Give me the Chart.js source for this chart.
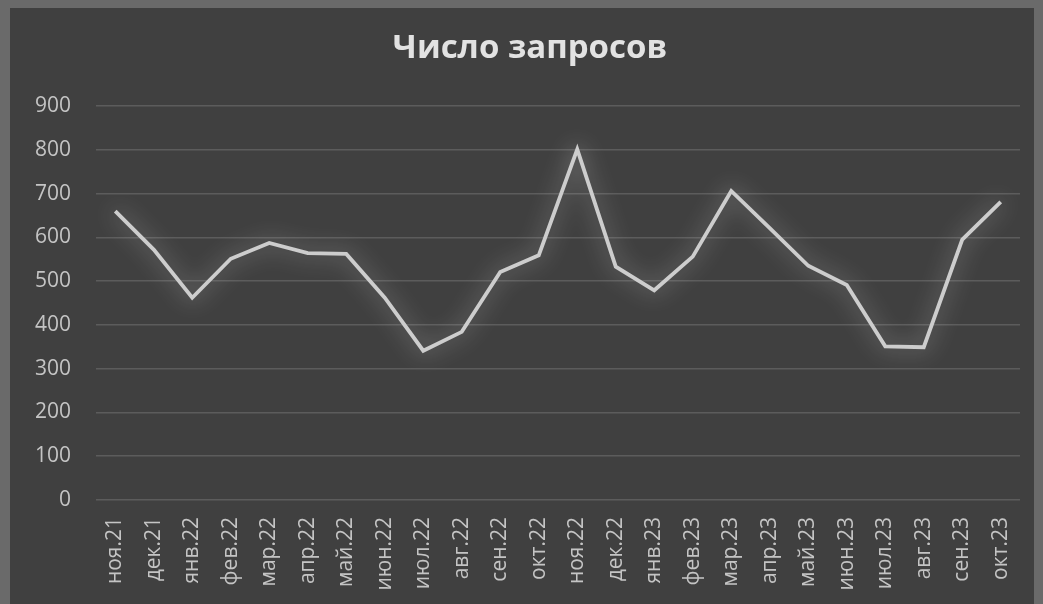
<!DOCTYPE html>
<html>
<head>
<meta charset="utf-8">
<script src="https://cdn.jsdelivr.net/npm/chart.js@4"></script>
<style>
  html, body { margin: 0; padding: 0; background: #6a6a6a; overflow: hidden; }
  #panel { position: absolute; left: 10px; top: 8px; width: 1024px; height: 596px; background: #404040; }
  #c { position: absolute; left: 0; top: 0; display: block; }
</style>
</head>
<body>
<div id="panel"></div>
<canvas id="c" width="1043" height="604"></canvas>
<script>
const categories = ["ноя.21","дек.21","янв.22","фев.22","мар.22","апр.22","май.22","июн.22","июл.22","авг.22","сен.22","окт.22","ноя.22","дек.22","янв.23","фев.23","мар.23","апр.23","май.23","июн.23","июл.23","авг.23","сен.23","окт.23"];
const requests = [660, 572, 462, 551, 587, 564, 562, 462, 341, 384, 521, 559, 801, 533, 479, 556, 706, 621, 535, 491, 351, 349, 595, 681];
const yTicks = [0, 100, 200, 300, 400, 500, 600, 700, 800, 900];
const chartTitle = "Число запросов";

const glow = {
  id: 'glow',
  beforeDatasetsDraw(chart) {
    const ctx = chart.ctx;
    ctx.save();
    ctx.shadowColor = 'rgba(255,255,255,0.5)';
    ctx.shadowBlur = 22;
  },
  afterDatasetsDraw(chart) {
    chart.ctx.restore();
  }
};

Chart.defaults.font.family = "'Open Sans', 'Noto Sans', sans-serif";

new Chart(document.getElementById('c'), {
  type: 'line',
  data: {
    labels: categories,
    datasets: [{
      data: requests,
      borderColor: '#cdcdcd',
      borderWidth: 3.8,
      pointRadius: 0,
      tension: 0,
      fill: false,
      yAxisID: 'y'
    }]
  },
  options: {
    responsive: false,
    animation: false,
    layout: { padding: { left: 20, right: 3, top: 0, bottom: 0 } },
    plugins: {
      legend: { display: false },
      tooltip: { enabled: false },
      title: {
        display: true,
        text: chartTitle,
        color: '#e2e2e2',
        font: { size: 33, weight: 'bold' },
        padding: { top: 29, bottom: 37.4 }
      }
    },
    scales: {
      x: {
        offset: true,
        grid: { display: false, drawTicks: false },
        border: { display: false },
        afterFit(axis) {
          axis.height = 104;
          axis.paddingLeft = 0;
          axis.paddingRight = 0;
        },
        ticks: {
          color: '#c4c4c4',
          font: { size: 21 },
          minRotation: 90,
          maxRotation: 90,
          padding: 17,
          autoSkip: false
        }
      },
      y: {
        min: 0,
        max: 900,
        afterBuildTicks(axis) { axis.ticks = yTicks.map(v => ({ value: v })); },
        afterFit(axis) {
          axis.width = 76;
          axis.paddingTop = 0;
          axis.paddingBottom = 0;
        },
        grid: { color: '#5c5c5c', lineWidth: 1.5, drawTicks: false },
        border: { display: false },
        ticks: {
          color: '#c4c4c4',
          font: { size: 21 },
          padding: 25
        }
      },
      yRight: {
        position: 'right',
        display: true,
        min: 0,
        max: 900,
        grid: { display: false, drawTicks: false },
        border: { display: false },
        ticks: { display: false },
        afterFit(axis) {
          axis.width = 20;
          axis.paddingTop = 0;
          axis.paddingBottom = 0;
        }
      }
    }
  },
  plugins: [glow]
});
</script>
</body>
</html>
